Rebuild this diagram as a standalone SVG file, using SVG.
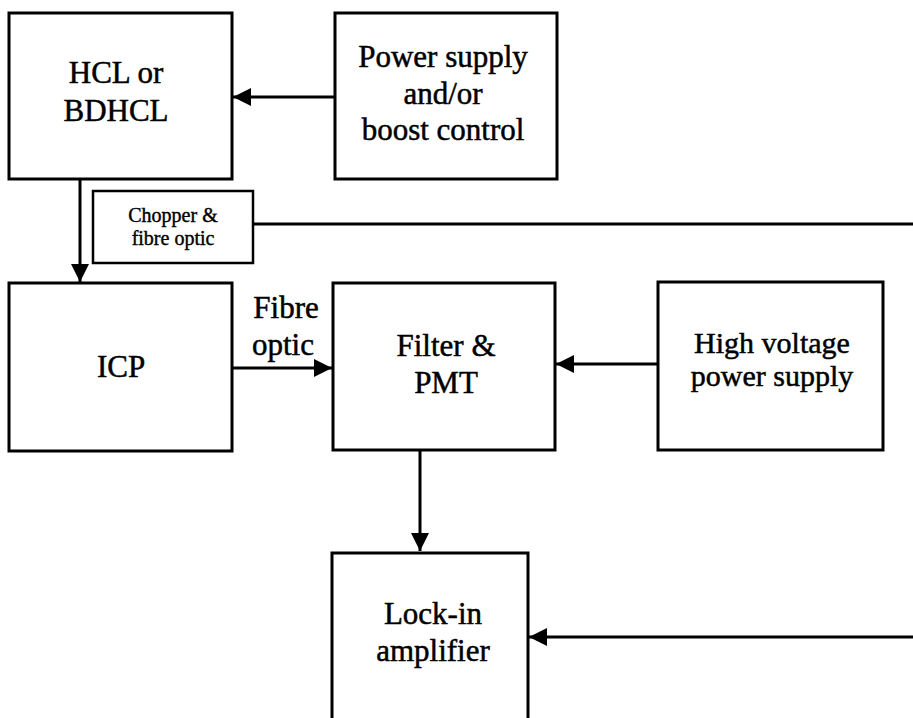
<svg xmlns="http://www.w3.org/2000/svg" width="913" height="718" viewBox="0 0 913 718">
<style>
.box{fill:#fff;stroke:#000;stroke-width:3}
.thin{fill:#fff;stroke:#000;stroke-width:2.5}
.t{font-family:"Liberation Serif","Times New Roman",serif;font-size:31px;fill:#000;stroke:#000;stroke-width:0.5;text-anchor:middle}
.h{font-size:30px}
.s{font-family:"Liberation Serif","Times New Roman",serif;font-size:20px;fill:#000;stroke:#000;stroke-width:0.4;text-anchor:middle}
.c{stroke:#000;stroke-width:3;fill:none}
</style>
<defs>
<marker id="ah" viewBox="0 0 10 10" refX="10" refY="5" markerWidth="6" markerHeight="6" markerUnits="strokeWidth" orient="auto">
<path d="M0,0 L10,5 L0,10 z" fill="#000"/>
</marker>
</defs>
<rect width="913" height="718" fill="#fff"/>
<g id="connectors">
<line class="c" x1="335" y1="97" x2="233" y2="97" marker-end="url(#ah)"/>
<line class="c" x1="80" y1="179" x2="80" y2="282" marker-end="url(#ah)"/>
<line class="c" x1="253" y1="224" x2="913" y2="224" stroke-width="2.5"/>
<line class="c" x1="232" y1="368" x2="332" y2="368" marker-end="url(#ah)"/>
<line class="c" x1="658" y1="364" x2="556" y2="364" marker-end="url(#ah)"/>
<line class="c" x1="420" y1="450" x2="420" y2="551" marker-end="url(#ah)"/>
<line class="c" x1="913" y1="637" x2="529" y2="637" marker-end="url(#ah)"/>
</g>
<g id="hcl">
<rect class="box" x="9" y="13" width="223" height="166"/>
<text class="t" x="116" y="83">HCL or</text>
<text class="t" x="116" y="121">BDHCL</text>
</g>
<g id="power">
<rect class="box" x="335" y="13" width="222" height="166"/>
<text class="t" x="443" y="67">Power supply</text>
<text class="t" x="443" y="104">and/or</text>
<text class="t" x="443" y="140">boost control</text>
</g>
<g id="chopper">
<rect class="thin" x="93" y="191" width="160" height="72"/>
<text class="s" x="173" y="222">Chopper &amp;</text>
<text class="s" x="173" y="245">fibre optic</text>
</g>
<g id="icp">
<rect class="box" x="9" y="283" width="223" height="168"/>
<text class="t" x="121" y="377">ICP</text>
</g>
<g id="fibre-label">
<text class="t" x="286" y="318">Fibre</text>
<text class="t" x="283" y="355">optic</text>
</g>
<g id="filter">
<rect class="box" x="333" y="283" width="222" height="167"/>
<text class="t" x="446" y="356">Filter &amp;</text>
<text class="t" x="446" y="393">PMT</text>
</g>
<g id="hv">
<rect class="box" x="658" y="282" width="225" height="168"/>
<text class="t h" x="772" y="353">High voltage</text>
<text class="t h" x="772" y="386">power supply</text>
</g>
<g id="lockin">
<rect class="box" x="332" y="553" width="196" height="180"/>
<text class="t" x="433" y="624">Lock-in</text>
<text class="t" x="433" y="661">amplifier</text>
</g>
</svg>
